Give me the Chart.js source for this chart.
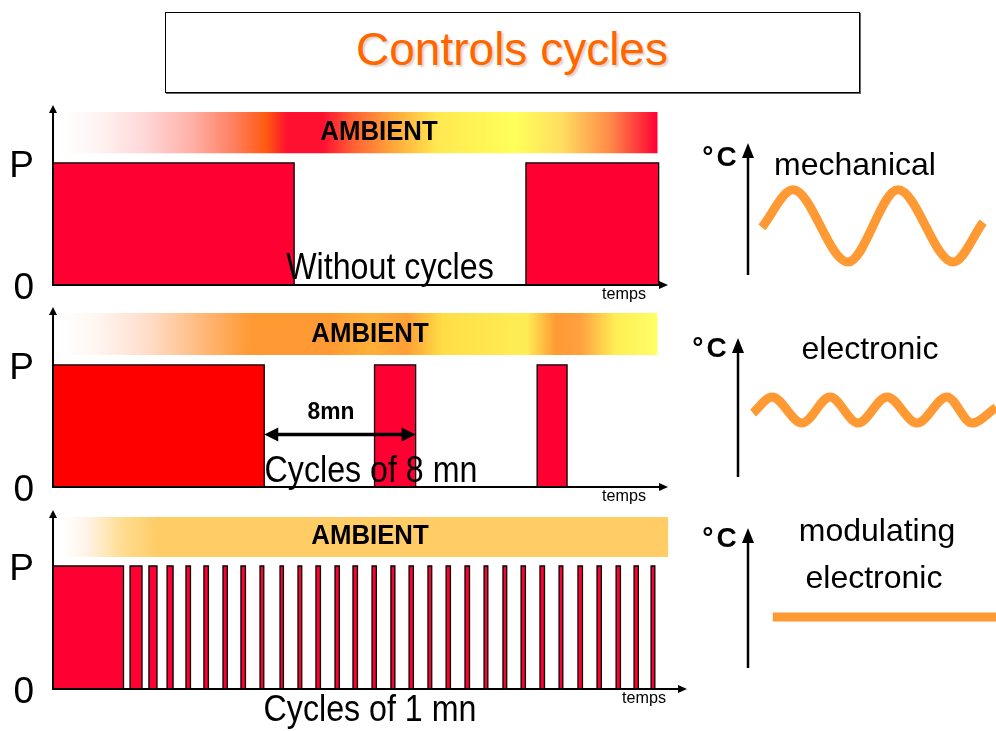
<!DOCTYPE html>
<html><head><meta charset="utf-8">
<script src="https://cdn.jsdelivr.net/npm/chart.js@4.4.0/dist/chart.umd.min.js"></script>
<style>
html,body{margin:0;padding:0;background:#fff;}
#stage{position:relative;width:996px;height:731px;overflow:hidden;background:#fff;font-family:"Liberation Sans",Arial,sans-serif;}
canvas{position:absolute;}
.t{position:absolute;white-space:nowrap;line-height:1;color:#000;text-align:center;width:400px;}
#titleBox{position:absolute;left:165px;top:12px;width:695px;height:81px;box-sizing:border-box;border:1px solid #000;box-shadow:1px 1px 0 #666;}
</style></head><body>
<div id="stage">
  <div id="titleBox"></div>
  <canvas id="p1" width="700" height="215" style="left:0;top:95px"></canvas>
  <canvas id="p2" width="700" height="210" style="left:0;top:300px"></canvas>
  <canvas id="p3" width="700" height="215" style="left:0;top:500px"></canvas>
  <canvas id="r1" width="316" height="170" style="left:680px;top:120px"></canvas>
  <canvas id="r2" width="316" height="180" style="left:680px;top:310px"></canvas>
  <canvas id="r3" width="316" height="190" style="left:680px;top:500px"></canvas>
</div>
<script>
// ---------------- DATA (time in minutes, power 0..P) ----------------
const levelTicks  = [0, 1];
const levelLabels = ['0', 'P'];
const powerLevel  = 1;

// Panel 1 : without cycles
const withoutOnStart = [0, 25.3];
const withoutOnEnd   = [12.9, 32.4];

// Panel 2 : cycles of 8 mn
const cycle8OnStart = [0, 17.2, 25.9];
const cycle8OnEnd   = [11.3, 19.4, 27.5];
const cycle8Span    = [11.3, 19.4];

// Panel 3 : cycles of 1 mn
const cycle1OnStart = [0, 4.12, 5.13, 6.10, 7.11, 8.07, 9.09, 10.05, 11.07, 12.14, 13.10, 14.06, 15.08, 16.04, 17.06,
                       18.07, 19.04, 20.05, 21.02, 22.03, 23.05, 24.06, 25.03, 26.04, 27.06, 28.07, 29.09, 30.11, 31.07, 31.98];
const cycle1OnEnd   = [3.77, 4.76, 5.56, 6.42, 7.35, 8.31, 9.32, 10.29, 11.27, 12.32, 13.30, 14.30, 15.31, 16.28, 17.29,
                       18.28, 19.27, 20.25, 21.25, 22.27, 23.25, 24.26, 25.26, 26.28, 27.26, 28.31, 29.32, 30.34, 31.30, 32.18];

// Ambient bands (time span, power-level span)
const ambientSpan1 = [0.37, 32.35], ambientLevel1 = [1.08, 1.418];
const ambientSpan2 = [0.37, 32.35], ambientLevel2 = [1.082, 1.426];
const ambientSpan3 = [0.48, 32.9],  ambientLevel3 = [1.073, 1.398];

// Time axis extents
const timeAxisMax  = [32.9, 32.9, 33.9];
const powerAxisMax = [1.475, 1.475, 1.455];

// Room temperature curves (arbitrary units 0..10)
const mechTime = [0.56, 1.81, 4.03, 6.05, 8.27, 9.48];
const mechTemp = [3.6, 6.45, 0.98, 6.45, 0.98, 4.0];
const elecTime = [0.58, 1.32, 2.48, 3.57, 4.65, 5.78, 6.94, 8.10, 9.07, 10.0];
const elecTemp = [4.6, 5.76, 3.88, 5.76, 3.88, 5.76, 3.88, 5.76, 3.88, 5.0];
const modTime  = [1.0, 10.0];
const modTemp  = [3.64, 3.64];

// ---------------- STYLES ----------------
const FONT = '"Liberation Sans", Arial, sans-serif';
const RED = '#FF0033';
const ORANGE_LINE = '#FF9933';
const ambientStops1 = [[0,'rgba(255,255,255,1)'],[0.06,'#FFF4F4'],[0.14,'#FFD8D8'],[0.22,'#FFB0A8'],[0.29,'#FF8060'],[0.345,'#FF5A10'],[0.38,'#FF1030'],[0.44,'#FF1030'],[0.49,'#FF6033'],[0.56,'#FFAA3A'],[0.63,'#FFE850'],[0.76,'#FFFF5A'],[0.84,'#FFDD60'],[0.92,'#FF8A48'],[1,'#FF0033']];
const ambientStops2 = [[0,'#FFFFFF'],[0.06,'#FFF6F2'],[0.15,'#FFDCC8'],[0.24,'#FFB878'],[0.32,'#FF9933'],[0.45,'#FF9933'],[0.52,'#FFB038'],[0.58,'#FF9F35'],[0.64,'#FFDD45'],[0.78,'#FFEE55'],[0.83,'#FF9933'],[0.87,'#FFA040'],[0.93,'#FFEE55'],[1,'#FFFF66']];
const ambientStops3 = [[0,'#FFFFFF'],[0.04,'#FFF4E8'],[0.1,'#FFDC90'],[0.16,'#FFCC66'],[1,'#FFCC66']];

function pulsePoints(starts, ends){
  const pts = [];
  starts.forEach((s, i) => { pts.push({x:s, y:0}, {x:s, y:powerLevel}, {x:ends[i], y:0}); });
  return pts;
}
function gradientFor(chart, span, stops){
  const xs = chart.scales && chart.scales.x;
  if (!xs || !chart.chartArea) return '#FFCC66';
  const g = chart.ctx.createLinearGradient(xs.getPixelForValue(span[0]), 0, xs.getPixelForValue(span[1]), 0);
  stops.forEach(s => g.addColorStop(s[0], s[1]));
  return g;
}
function pulseDataset(starts, ends, color){
  return {type:'line', data:pulsePoints(starts, ends), stepped:true, fill:'origin', backgroundColor:color,
          borderColor:'#000', borderWidth:1.3, pointRadius:0, clip:false, order:1};
}
function ambientDataset(span, level, stops){
  return {type:'line', data:[{x:span[0], y:level[1]}, {x:span[1], y:level[1]}], fill:{value:level[0]},
          borderWidth:0, borderColor:'rgba(0,0,0,0)', pointRadius:0, clip:false, order:2,
          backgroundColor:(c) => gradientFor(c.chart, span, stops)};
}

const leftAxes = {
  id:'leftAxes',
  afterDatasetsDraw(chart){
    const {ctx} = chart, x = chart.scales.x, y = chart.scales.y;
    const x0 = x.getPixelForValue(0), x1 = x.getPixelForValue(x.max);
    const y0 = y.getPixelForValue(0), y1 = y.getPixelForValue(y.max);
    ctx.save();
    ctx.strokeStyle = '#000'; ctx.fillStyle = '#000'; ctx.lineWidth = 2;
    ctx.beginPath(); ctx.moveTo(x0, y0); ctx.lineTo(x1 - 6, y0); ctx.moveTo(x0, y0 + 1); ctx.lineTo(x0, y1 + 6); ctx.stroke();
    ctx.beginPath(); ctx.moveTo(x1, y0); ctx.lineTo(x1 - 9, y0 - 4); ctx.lineTo(x1 - 9, y0 + 4); ctx.closePath(); ctx.fill();
    ctx.beginPath(); ctx.moveTo(x0, y1); ctx.lineTo(x0 - 4, y1 + 8); ctx.lineTo(x0 + 4, y1 + 8); ctx.closePath(); ctx.fill();
    const span = chart.options.plugins.leftAxes && chart.options.plugins.leftAxes.span;
    if (span){
      const a = x.getPixelForValue(span[0]), b = x.getPixelForValue(span[1]), yy = y.getPixelForValue(chart.options.plugins.leftAxes.level);
      ctx.lineWidth = 3.5;
      ctx.beginPath(); ctx.moveTo(a + 8, yy); ctx.lineTo(b - 8, yy); ctx.stroke();
      ctx.beginPath(); ctx.moveTo(a, yy); ctx.lineTo(a + 14, yy - 7); ctx.lineTo(a + 14, yy + 7); ctx.closePath(); ctx.fill();
      ctx.beginPath(); ctx.moveTo(b, yy); ctx.lineTo(b - 14, yy - 7); ctx.lineTo(b - 14, yy + 7); ctx.closePath(); ctx.fill();
    }
    ctx.restore();
  }
};

function leftChart(id, idx, datasets, pad, extra){
  return new Chart(document.getElementById(id), {
    type:'line',
    data:{datasets},
    plugins:[leftAxes],
    options:{
      responsive:false, animation:false, events:[],
      layout:{padding:{left:0, right:pad.right, top:pad.top, bottom:pad.bottom}},
      plugins:{legend:{display:false}, tooltip:{enabled:false}, leftAxes:extra || {}},
      scales:{
        x:{type:'linear', min:0, max:timeAxisMax[idx], display:false},
        y:{type:'linear', min:0, max:powerAxisMax[idx], grid:{display:false}, border:{display:false},
           afterBuildTicks(s){ s.ticks = levelTicks.map(v => ({value:v})); },
           afterFit(s){ s.width = 53; s.paddingTop = 0; s.paddingBottom = 0; },
           ticks:{autoSkip:false, padding:11, labelOffset:4, color:'#000', font:{family:FONT, size:37},
                  callback:(v, i) => levelLabels[i]}}
      }
    }
  });
}

leftChart('p1', 0, [ambientDataset(ambientSpan1, ambientLevel1, ambientStops1),
                    pulseDataset(withoutOnStart, withoutOnEnd, RED)], {top:10, bottom:25, right:32});
leftChart('p2', 1, [ambientDataset(ambientSpan2, ambientLevel2, ambientStops2),
                    pulseDataset(cycle8OnStart.slice(0,1), cycle8OnEnd.slice(0,1), '#FF0000'),
                    pulseDataset(cycle8OnStart.slice(1), cycle8OnEnd.slice(1), RED)], {top:7, bottom:23, right:32},
          {span:cycle8Span, level:0.43});
leftChart('p3', 2, [ambientDataset(ambientSpan3, ambientLevel3, ambientStops3),
                    pulseDataset(cycle1OnStart, cycle1OnEnd, RED)], {top:10, bottom:26, right:13});

// ---------------- right-hand temperature charts ----------------
const tempAxis = {
  id:'tempAxis',
  afterDatasetsDraw(chart){
    const {ctx} = chart, x = chart.scales.x, y = chart.scales.y;
    const x0 = x.getPixelForValue(0), yb = y.getPixelForValue(0), yt = y.getPixelForValue(y.max);
    ctx.save(); ctx.strokeStyle = '#000'; ctx.fillStyle = '#000'; ctx.lineWidth = 2.5;
    ctx.beginPath(); ctx.moveTo(x0, yb); ctx.lineTo(x0, yt + 10); ctx.stroke();
    ctx.beginPath(); ctx.moveTo(x0, yt); ctx.lineTo(x0 - 6, yt + 15); ctx.lineTo(x0 + 6, yt + 15); ctx.closePath(); ctx.fill();
    ctx.restore();
  }
};
function tempChart(id, xs, ys, pad){
  return new Chart(document.getElementById(id), {
    type:'line',
    data:{datasets:[{data:xs.map((v, i) => ({x:v, y:ys[i]})), borderColor:ORANGE_LINE, borderWidth:9,
                     pointRadius:0, cubicInterpolationMode:'monotone', clip:false, fill:false, borderCapStyle:'butt'}]},
    plugins:[tempAxis],
    options:{responsive:false, animation:false, events:[],
      layout:{padding:pad},
      plugins:{legend:{display:false}, tooltip:{enabled:false}},
      scales:{x:{type:'linear', min:0, max:10, display:false}, y:{type:'linear', min:0, max:10, display:false}}}
  });
}
tempChart('r1', mechTime, mechTemp, {left:68, right:0, top:23, bottom:15});
tempChart('r2', elecTime, elecTemp, {left:58, right:0, top:28, bottom:13});
tempChart('r3', modTime, modTemp, {left:68, right:0, top:28, bottom:22});

// ---------------- text ----------------
const stage = document.getElementById('stage');
function label(text, cx, baseline, size, opt){
  opt = opt || {};
  const d = document.createElement('div');
  d.className = 't';
  d.textContent = text;
  d.style.left = (cx - 200) + 'px';
  d.style.top = (baseline - 0.8465 * size) + 'px';
  d.style.fontSize = size + 'px';
  if (opt.bold) d.style.fontWeight = 'bold';
  if (opt.color) d.style.color = opt.color;
  if (opt.shadow) d.style.textShadow = opt.shadow;
  if (opt.sx) d.style.transform = 'scaleX(' + opt.sx + ')';
  if (opt.ls) d.style.letterSpacing = opt.ls;
  stage.appendChild(d);
}
label('Controls cycles', 512, 65, 46, {color:'#FF6600', shadow:'2px 2px 2px rgba(120,80,40,0.25)'});
label('AMBIENT', 379, 141, 28, {bold:true, sx:0.92});
label('AMBIENT', 370, 343, 28, {bold:true, sx:0.92});
label('AMBIENT', 370, 545, 28, {bold:true, sx:0.92});
label('Without cycles', 390, 279, 37, {sx:0.87});
label('Cycles of 8 mn', 371, 482, 37, {sx:0.87});
label('Cycles of 1 mn', 370, 721, 37, {sx:0.87});
label('8mn', 331, 419, 24, {bold:true, sx:0.95});
label('temps', 624, 299, 17, {sx:0.95});
label('temps', 624, 501, 17, {sx:0.95});
label('temps', 644, 703, 17, {sx:0.95});
label('°C', 721, 167, 28, {bold:true, ls:'3px'});
label('°C', 711, 358, 28, {bold:true, ls:'3px'});
label('°C', 721, 548, 28, {bold:true, ls:'3px'});
label('mechanical', 855, 175, 32);
label('electronic', 870, 359, 32);
label('modulating', 877, 541, 32);
label('electronic', 874, 588, 32);
</script>
</body></html>
